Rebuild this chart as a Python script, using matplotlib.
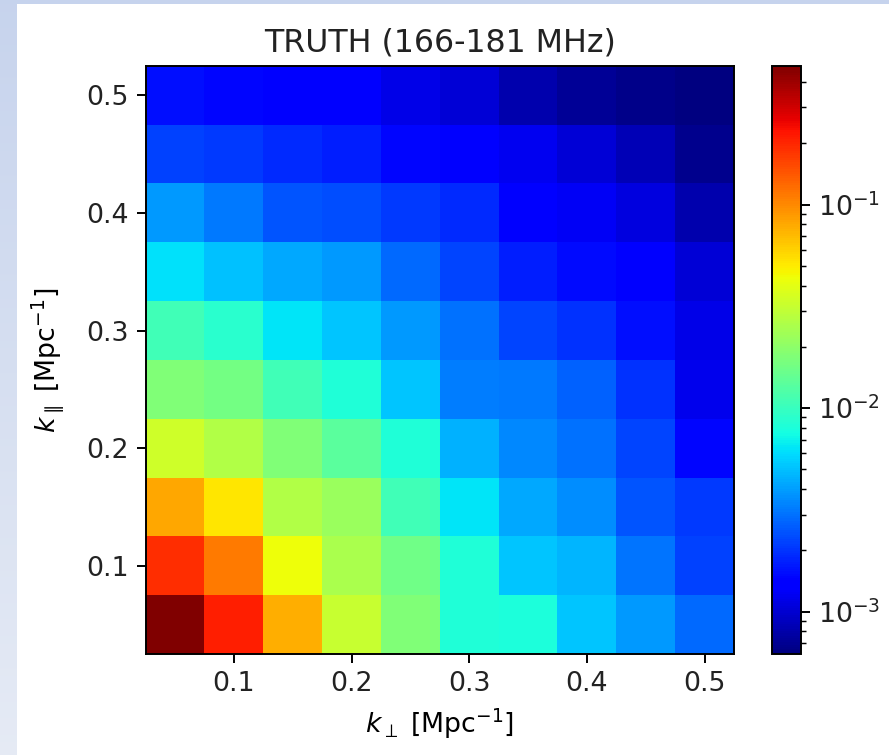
import numpy as np
import matplotlib
matplotlib.use("Agg")
import matplotlib.pyplot as plt
from matplotlib.colors import LogNorm

# bin centres [Mpc^-1]
k_perp = [0.05, 0.10, 0.15, 0.20, 0.25, 0.30, 0.35, 0.40, 0.45, 0.50]
k_par = [0.05, 0.10, 0.15, 0.20, 0.25, 0.30, 0.35, 0.40, 0.45, 0.50]

# one row per k_par bin (bottom to top), one column per k_perp bin
row_005 = [0.48, 0.21, 0.0766, 0.0318, 0.0178, 0.0083, 0.0081, 0.00521, 0.00386, 0.00281]
row_010 = [0.189, 0.111, 0.0438, 0.0249, 0.0156, 0.0083, 0.0052, 0.0047, 0.0031, 0.0022]
row_015 = [0.080, 0.0517, 0.0266, 0.0218, 0.0108, 0.0064, 0.0043, 0.0036, 0.0025, 0.00205]
row_020 = [0.0336, 0.0266, 0.0178, 0.0130, 0.0083, 0.00447, 0.00345, 0.00296, 0.00227, 0.00147]
row_025 = [0.0178, 0.0161, 0.0108, 0.0083, 0.0052, 0.00327, 0.00312, 0.00268, 0.00195, 0.00118]
row_030 = [0.0108, 0.0089, 0.0064, 0.0052, 0.00386, 0.00296, 0.00227, 0.00195, 0.00157, 0.00113]
row_035 = [0.00615, 0.00504, 0.00427, 0.00386, 0.00281, 0.00227, 0.00175, 0.00150, 0.00133, 0.00103]
row_040 = [0.00386, 0.00312, 0.00251, 0.00239, 0.00205, 0.00186, 0.00129, 0.00125, 0.00108, 0.00082]
row_045 = [0.00219, 0.00205, 0.00186, 0.00175, 0.00147, 0.00133, 0.00121, 0.00103, 0.00085, 0.00068]
row_050 = [0.00157, 0.00147, 0.00133, 0.00131, 0.00113, 0.00103, 0.00082, 0.00072, 0.00066, 0.00062]

power = np.array([row_005, row_010, row_015, row_020, row_025,
                  row_030, row_035, row_040, row_045, row_050])

plt.rcParams['font.size'] = 11
plt.rcParams['axes.titlesize'] = 13
plt.rcParams['text.color'] = '#222222'
plt.rcParams['xtick.labelcolor'] = '#222222'
plt.rcParams['ytick.labelcolor'] = '#222222'

dpi = 175
fig = plt.figure(figsize=(889 / dpi, 755 / dpi), dpi=dpi)

# light blue slide border on the left and top
h, w = 755, 17
grad = np.linspace(0, 1, h)[:, None, None]
top_col = np.array([0.78, 0.83, 0.93])
bot_col = np.array([0.90, 0.92, 0.96])
strip = grad * bot_col + (1 - grad) * top_col
strip = np.repeat(strip, w, axis=1)
fig.figimage(strip, xo=0, yo=0, zorder=-5, origin='upper')
fig.figimage(np.tile(top_col, (4, 889, 1)), xo=0, yo=751, zorder=-5)

ax = fig.add_axes([0.1637, 0.1338, 0.662, 0.779])
cax = fig.add_axes([0.8684, 0.1338, 0.0326, 0.779])

mesh = ax.pcolormesh(k_perp, k_par, power, shading='nearest', cmap='jet',
                     norm=LogNorm())
ax.set_xticks([0.1, 0.2, 0.3, 0.4, 0.5])
ax.set_yticks([0.1, 0.2, 0.3, 0.4, 0.5])
ax.set_title('TRUTH (166-181 MHz)')
ax.set_xlabel(r'$k_\perp$ [Mpc$^{-1}$]')
ax.set_ylabel(r'$k_\parallel$ [Mpc$^{-1}$]', labelpad=8)

fig.colorbar(mesh, cax=cax)

fig.savefig('out.png', dpi=dpi)
